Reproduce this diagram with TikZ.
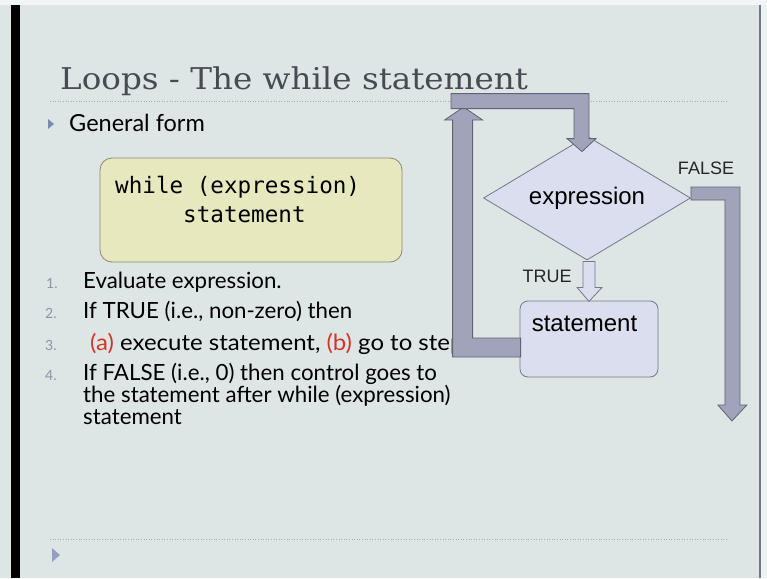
\documentclass[tikz,border=0pt]{standalone}
\usepackage{fontspec}
\setmainfont{Lato}
\setmonofont{DejaVu Sans Mono}
\newfontfamily\titlefont{DejaVu Serif}
\newfontfamily\chartfont{Liberation Sans}
\usetikzlibrary{shapes.geometric}

\definecolor{slidebg}{RGB}{221,229,229}
\definecolor{titlegray}{RGB}{72,75,82}
\definecolor{rulegray}{RGB}{165,172,172}
\definecolor{bulletblue}{RGB}{120,138,178}
\definecolor{numgray}{RGB}{140,148,170}
\definecolor{redtxt}{RGB}{212,52,40}
\definecolor{codefill}{RGB}{231,232,190}
\definecolor{codedraw}{RGB}{138,138,112}
\definecolor{shapefill}{RGB}{219,222,238}
\definecolor{shapedraw}{RGB}{118,120,134}
\definecolor{bandfill}{RGB}{160,163,185}
\definecolor{banddraw}{RGB}{98,100,116}

\tikzstyle{rule} = [draw=rulegray, dotted, line width=0.6pt]
\tikzstyle{item} = [anchor=base west, inner sep=0pt, font=\fontsize{22.3}{26}\selectfont]
\tikzstyle{num} = [anchor=base west, inner sep=0pt, text=numgray, font=\fontsize{14}{16}\selectfont]
\tikzstyle{band} = [draw=banddraw, fill=bandfill, line width=0.8pt, line join=miter]
\tikzstyle{hollow} = [draw=shapedraw, fill=shapefill, line width=0.8pt]
\tikzstyle{lbl} = [inner sep=0pt, font=\chartfont\fontsize{18}{20}\selectfont, text=black!85]

\begin{document}
\begin{tikzpicture}[x=1pt, y=-1pt]
    \useasboundingbox (0,0) rectangle (767,578);
    % slide
    \fill[slidebg] (0,0) rectangle (767,578);
    \fill[slidebg!40!white] (0,0) rectangle (767,5);
    \fill[black] (11,5) rectangle (20,578);
    \draw[shapedraw, line width=1.2pt] (760,5) -- (760,578);
    \fill[slidebg!50!white] (760.6,5) rectangle (767,578);

    % title
    \node[anchor=base west, inner sep=0pt, text=titlegray] (title) at (60,89)
        {\titlefont\fontsize{30}{34}\selectfont\scalebox{1.086}[1]{Loops - The while statement}};
    \draw[rule] (50,101) -- (727,101);

    % general form
    \fill[bulletblue] (48,119) -- (54,124) -- (48,129) -- cycle;
    \node[item, font=\fontsize{23.5}{27}\selectfont] (general) at (69,131) {General form};

    \node[draw=codedraw, fill=codefill, line width=0.8pt, rounded corners=12pt,
        minimum width=302pt, minimum height=104pt] (code) at (251,210) {};
    \node[anchor=base west, inner sep=0pt, font=\ttfamily\fontsize{22.6}{26}\selectfont] (code1) at (115,193) {while (expression)};
    \node[anchor=base west, inner sep=0pt, font=\ttfamily\fontsize{22.6}{26}\selectfont] (code2) at (183,222) {statement};

    % steps
    \node[num] (n1) at (46,288) {1.};
    \node[num] (n2) at (45,318) {2.};
    \node[num] (n3) at (45,350) {3.};
    \node[num] (n4) at (45,380) {4.};
    \node[item] (l1) at (83,288) {Evaluate expression.};
    \node[item] (l2) at (83,318) {If TRUE (i.e., non-zero) then};
    \node[item] (l3) at (90,350) {\scalebox{1.075}[1]{\textcolor{redtxt}{(a)} execute statement, \textcolor{redtxt}{(b)} go to step}};
    \node[item] (l4) at (83,380) {If FALSE (i.e., 0) then control goes to};
    \node[item] (l5) at (83,402) {the statement after while (expression)};
    \node[item] (l6) at (83,424) {statement};

    % flowchart
    \node[hollow, diamond, aspect=1.67, inner sep=0pt, minimum width=207pt, minimum height=124pt,
        font=\chartfont\fontsize{24}{28}\selectfont] (cond) at (587,198) {\raisebox{-2pt}{expression}};
    \node[hollow, rounded corners=8pt, inner sep=0pt, minimum width=138pt,
        text height=30pt, text depth=46pt, font=\chartfont\fontsize{24}{28}\selectfont] (stmt) at (589,339) {statement\hspace*{9pt}};

    % TRUE arrow
    \draw[hollow, shift={(cond.south)}] (-4,1) -- (8,1) -- (8,27) -- (15,27) -- (2,41)
        -- (-10,27) -- (-4,27) -- cycle;
    % back to the top
    \draw[band, shift={(stmt.west)}] (1,-1) -- (-47,-1) -- (-47,-219) -- (-37,-219) -- (-56,-232)
        -- (-75,-219) -- (-67,-219) -- (-67,18) -- (1,18) -- cycle;
    \draw[band, shift={(cond.north)}] (-136,-42) -- (2,-42) -- (2,3) -- (9,3) -- (-5,16)
        -- (-20,3) -- (-13,3) -- (-13,-27) -- (-136,-27) -- cycle;
    % FALSE arrow
    \draw[band, shift={(cond.east)}] (0,-11) -- (49,-11) -- (49,207) -- (56,207) -- (41,223)
        -- (27,207) -- (34,207) -- (34,2) -- (0,2) -- cycle;

    \node[lbl] (falselbl) at (706,168) {FALSE};
    \node[lbl] (truelbl) at (547,276) {TRUE};

    % footer
    \draw[rule] (50,539) -- (727,539);
    \fill[bulletblue!80!white] (52,548) -- (60,555) -- (52,562) -- cycle;
\end{tikzpicture}
\end{document}
